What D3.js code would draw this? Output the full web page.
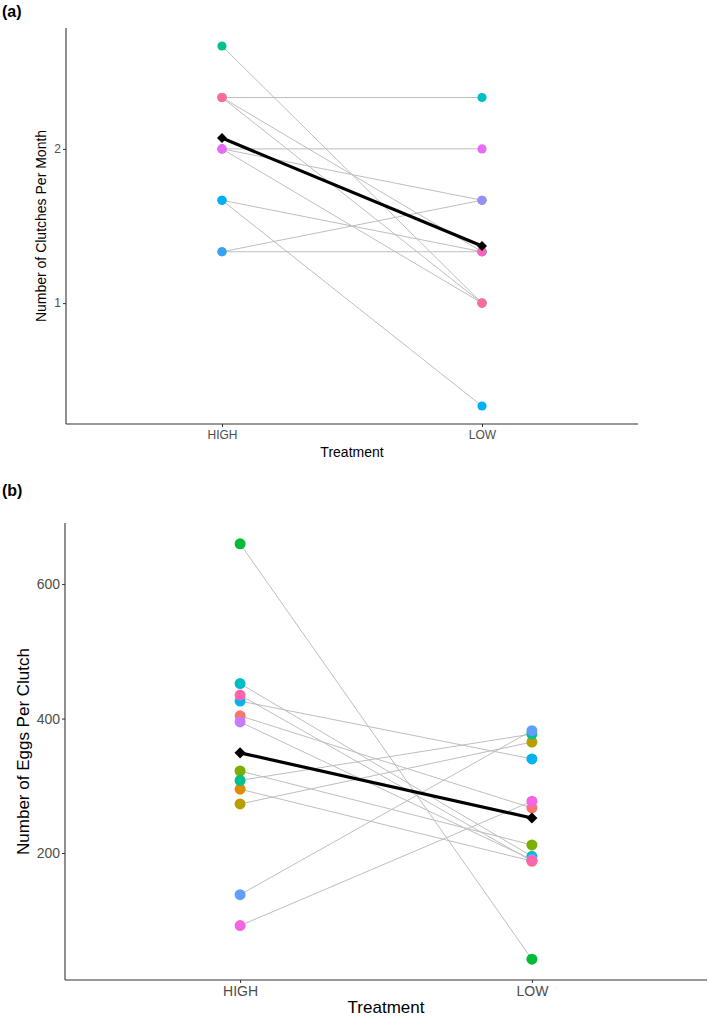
<!DOCTYPE html>
<html>
<head>
<meta charset="utf-8">
<script src="https://cdn.jsdelivr.net/npm/d3@7"></script>
<style>
  body { margin: 0; background: #fff; }
  text { font-family: "Liberation Sans", Arial, sans-serif; }
</style>
</head>
<body>
<svg id="chart" width="709" height="1018"></svg>
<script>
var treatments = ["HIGH", "LOW"];

// (a) clutches per month, one entry per individual (order = draw order)
var clutchHigh   = [2.667, 2.333, 1.333, 2.0, 2.0, 2.0, 1.667, 1.667, 1.333, 2.333, 2.333];
var clutchLow    = [1.0, 2.333, 1.667, 1.667, 1.0, 2.0, 1.333, 0.333, 1.333, 1.333, 1.0];
var clutchColors = ["#00C08B", "#00BFC4", "#7CAE00", "#9590FF", "#C77CFF", "#E76BF3",
                    "#00A9FF", "#00B0F6", "#35A2FF", "#FF62BC", "#FF6A98"];
var clutchMean   = [2.07, 1.37];
var clutchTicks  = [1, 2];

// (b) eggs per clutch
var eggsHigh   = [404, 295, 273, 322, 660, 308, 452, 426, 138, 395, 92, 435];
var eggsLow    = [267, 188, 365, 212, 42, 377, 195, 340, 382, 190, 277, 188];
var eggsColors = ["#F8766D", "#DE8C00", "#B79F00", "#7CAE00", "#00BA38", "#00C08B",
                  "#00BFC4", "#00B4F0", "#619CFF", "#C77CFF", "#F564E3", "#FF64B0"];
var eggsMean   = [349, 252];
var eggsTicks  = [200, 400, 600];

var svg = d3.select("#chart");
svg.append("rect").attr("width", 709).attr("height", 1018).attr("fill", "#fff");

// ggplot-style 5% expansion of the continuous range
function expand(ext) {
    var d = (ext[1] - ext[0]) * 0.05;
    return [ext[0] - d, ext[1] + d];
}

function drawPanel(p) {
    var g = svg.append("g");

    var x = d3.scalePoint()
        .domain(treatments)
        .range([p.left, p.right])
        .padding(0.6);

    var ext = d3.extent(p.high.concat(p.low, p.mean));
    var y = d3.scaleLinear()
        .domain(expand(ext))
        .range([p.bottom, p.top]);

    var pairs = p.high.map(function(h, i) { return { high: h, low: p.low[i], color: p.colors[i] }; });

    // individual lines
    g.selectAll("line.ind")
        .data(pairs)
        .enter().append("line")
        .attr("class", "ind")
        .attr("x1", x("HIGH")).attr("x2", x("LOW"))
        .attr("y1", d => y(d.high)).attr("y2", d => y(d.low))
        .attr("stroke", "#BEBEBE")
        .attr("stroke-width", 1);

    // points, HIGH then LOW for each individual
    pairs.forEach(function(d) {
        g.append("circle").attr("cx", x("HIGH")).attr("cy", y(d.high))
            .attr("r", p.r).attr("fill", d.color);
        g.append("circle").attr("cx", x("LOW")).attr("cy", y(d.low))
            .attr("r", p.r).attr("fill", d.color);
    });

    // mean line + diamonds
    g.append("line")
        .attr("x1", x("HIGH")).attr("x2", x("LOW"))
        .attr("y1", y(p.mean[0])).attr("y2", y(p.mean[1]))
        .attr("stroke", "#000")
        .attr("stroke-width", 3.2);

    g.selectAll("path.mean")
        .data(p.mean)
        .enter().append("path")
        .attr("class", "mean")
        .attr("d", d3.symbol(d3.symbolSquare, p.diamond))
        .attr("transform", (d, i) => "translate(" + x(treatments[i]) + "," + y(d) + ") rotate(45)")
        .attr("fill", "#000");

    // axes
    var yAxis = g.append("g")
        .attr("transform", "translate(" + p.left + ",0)")
        .call(d3.axisLeft(y).tickValues(p.ticks).tickFormat(d3.format("d"))
            .tickSize(3).tickSizeOuter(0).tickPadding(2));
    var xAxis = g.append("g")
        .attr("transform", "translate(0," + p.bottom + ")")
        .call(d3.axisBottom(x).tickSize(3).tickSizeOuter(0).tickPadding(3));

    [yAxis, xAxis].forEach(function(a) {
        a.select(".domain").attr("stroke", "#333").attr("stroke-width", 1.1);
        a.selectAll(".tick line").attr("stroke", "#333");
        a.selectAll(".tick text")
            .attr("fill", "#4D4D4D")
            .style("font-family", "'Liberation Sans', Arial, sans-serif")
            .style("font-size", p.tickFont + "px");
    });
    // the axis lines span the whole panel
    yAxis.select(".domain").attr("d", "M0," + p.top + "V" + p.bottom);
    xAxis.select(".domain").attr("d", "M" + p.left + ",0H" + p.right);

    // titles
    g.append("text")
        .attr("x", (p.left + p.right) / 2)
        .attr("y", p.xTitleY)
        .attr("text-anchor", "middle")
        .style("font-size", p.titleFont + "px")
        .text("Treatment");

    g.append("text")
        .attr("transform", "translate(" + p.yTitleX + "," + (p.top + p.bottom) / 2 + ") rotate(-90)")
        .attr("text-anchor", "middle")
        .style("font-size", p.titleFont + "px")
        .text(p.yTitle);

    g.append("text")
        .attr("x", 2)
        .attr("y", p.tagY)
        .style("font-size", "16px")
        .style("font-weight", "bold")
        .text(p.tag);
}

drawPanel({
    high: clutchHigh, low: clutchLow, colors: clutchColors, mean: clutchMean, ticks: clutchTicks,
    left: 66, right: 638, top: 28, bottom: 424,
    r: 4.6, diamond: 50, tickFont: 12, titleFont: 14,
    xTitleY: 457, yTitleX: 46,
    yTitle: "Number of Clutches Per Month", tag: "(a)", tagY: 17
});

drawPanel({
    high: eggsHigh, low: eggsLow, colors: eggsColors, mean: eggsMean, ticks: eggsTicks,
    left: 65, right: 707, top: 523, bottom: 980,
    r: 5.5, diamond: 62, tickFont: 14, titleFont: 17,
    xTitleY: 1013, yTitleX: 29,
    yTitle: "Number of Eggs Per Clutch", tag: "(b)", tagY: 496
});
</script>
</body>
</html>
